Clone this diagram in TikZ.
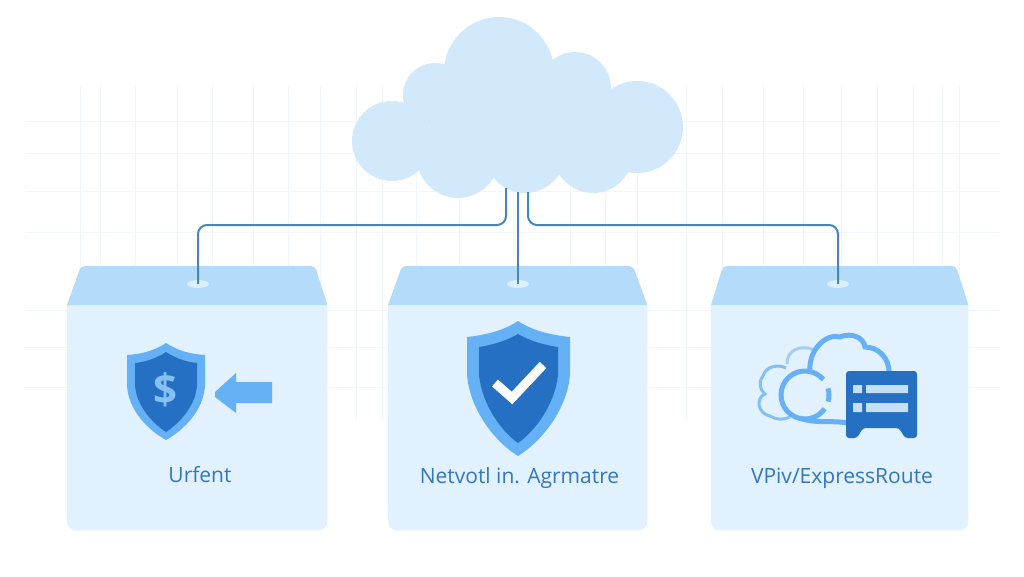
\documentclass[tikz,border=0pt]{standalone}
\usepackage{fontspec}
\setmainfont{Open Sans}
\usetikzlibrary{shapes.geometric}
\definecolor{gridline}{HTML}{F0F6FC}
\definecolor{cloudfill}{HTML}{D2E9FB}
\definecolor{boxbody}{HTML}{E1F1FD}
\definecolor{boxlid}{HTML}{B5DBFA}
\definecolor{padfill}{HTML}{DCEFFD}
\definecolor{linkblue}{HTML}{4586BE}
\definecolor{iconlight}{HTML}{66B0F5}
\definecolor{iconmid}{HTML}{85C0F5}
\definecolor{iconpale}{HTML}{A3CFF6}
\definecolor{icondark}{HTML}{2670C4}
\definecolor{barfill}{HTML}{C5DFF7}
\definecolor{labelblue}{HTML}{3577B8}
\tikzset{
    gridrule/.style={draw=gridline, line width=1pt},
    boxnode/.style={minimum height=225pt, anchor=north west, inner sep=0pt},
    padnode/.style={ellipse, fill=padfill, minimum width=22pt, minimum height=8pt, inner sep=0pt},
    link/.style={draw=linkblue, line width=2pt, rounded corners=9pt},
    caption/.style={text=labelblue, font=\fontsize{21}{24}\selectfont, inner sep=0pt}
}
\begin{document}
\begin{tikzpicture}[x=1pt, y=-1pt]
    \useasboundingbox (0,0) rectangle (1024,576);

    % faint grid behind everything
    \foreach \gx in {80,100,135,177,212,253,288,320,356,382,416,459,570,605,637,686,722,763,803,841,877,913,942,959}
        \draw[gridrule] (\gx,85) -- (\gx,420);
    \foreach \gy in {121,153,191,232,310,347,387}
        \draw[gridrule] (25,\gy) -- (1000,\gy);

    % cloud
    \fill[cloudfill] (392,141) circle (40);
    \fill[cloudfill] (435,95) circle (32);
    \fill[cloudfill] (499,72) circle (55);
    \fill[cloudfill] (575,88) circle (36);
    \fill[cloudfill] (637,127) circle (46);
    \fill[cloudfill] (458,157) circle (41);
    \fill[cloudfill] (525,153) circle (40);
    \fill[cloudfill] (593,153) circle (40);
    \fill[cloudfill] (430,100) rectangle (620,160);
    \coordinate (cloudL) at (506,188);
    \coordinate (cloudM) at (518,192);
    \coordinate (cloudR) at (528,192);

    % boxes
    \node[boxnode, minimum width=260pt] (boxA) at (67,305) {};
    \node[boxnode, minimum width=259pt] (boxB) at (388,305) {};
    \node[boxnode, minimum width=257pt] (boxC) at (711,305) {};
    \fill[boxbody] (boxA.north west) -- (boxA.north east) [rounded corners=9pt] -- (boxA.south east) -- (boxA.south west) [sharp corners] -- cycle;
    \fill[boxbody] (boxB.north west) -- (boxB.north east) [rounded corners=9pt] -- (boxB.south east) -- (boxB.south west) [sharp corners] -- cycle;
    \fill[boxbody] (boxC.north west) -- (boxC.north east) [rounded corners=9pt] -- (boxC.south east) -- (boxC.south west) [sharp corners] -- cycle;
    \fill[boxlid] (boxA.north west) [rounded corners=4pt] -- (81,266) -- (315,266) [sharp corners] -- (boxA.north east) -- cycle;
    \fill[boxlid] (boxB.north west) [rounded corners=4pt] -- (402,266) -- (633,266) [sharp corners] -- (boxB.north east) -- cycle;
    \fill[boxlid] (boxC.north west) [rounded corners=4pt] -- (723,266) -- (956,266) [sharp corners] -- (boxC.north east) -- cycle;

    \node[padnode] (padA) at (198,284) {};
    \node[padnode] (padB) at (518,284) {};
    \node[padnode] (padC) at (838,284) {};

    \coordinate (bendA) at (198,225);
    \coordinate (bendC) at (838,225);
    \draw[link] (cloudL) -- (cloudL |- bendA) -- (bendA) -- (padA.center);
    \draw[link] (cloudM) -- (padB.center);
    \draw[link] (cloudR) -- (cloudR |- bendC) -- (bendC) -- (padC.center);

    % first icon
    \fill[iconlight] (166,343) .. controls (152,352) and (140,354) .. (127,355) -- (127,385) .. controls (128,410) and (148,430) .. (166,440) .. controls (184,430) and (204,410) .. (205,385) -- (205,355) .. controls (192,354) and (180,352) .. (166,343) -- cycle;
    \fill[icondark] (166,352) .. controls (155,359) and (145,362) .. (135,363) -- (135,385) .. controls (136,405) and (152,423) .. (166,432) .. controls (180,423) and (196,405) .. (197,385) -- (197,363) .. controls (187,362) and (177,359) .. (166,352) -- cycle;
    \node[text=iconmid, font=\bfseries\fontsize{42}{42}\selectfont, inner sep=0pt] (dollar) at (165,390) {\$};
    \fill[iconlight] (215,392) -- (236,373) -- (236,382) -- (272,382) -- (272,403) -- (236,403) -- (236,413) -- (215,397) -- cycle;

    % second icon
    \fill[iconlight] (518,321) .. controls (503,331) and (485,335) .. (467,337) -- (467,375) .. controls (470,410) and (495,442) .. (518,456) .. controls (541,442) and (567,410) .. (570,375) -- (570,337) .. controls (551,335) and (533,331) .. (518,321) -- cycle;
    \fill[icondark] (518,334) .. controls (506,341) and (492,345) .. (479,347) -- (479,375) .. controls (482,405) and (502,432) .. (518,443) .. controls (534,432) and (555,405) .. (558,375) -- (558,347) .. controls (544,345) and (530,341) .. (518,334) -- cycle;
    \draw[white, line width=9pt] (495,383) -- (512,398) -- (543,365);

    % third icon
    \draw[iconpale, line width=3pt] (787,364) .. controls (786,350) and (802,344) .. (814,350);
    \draw[iconmid, line width=3pt] (786,368) .. controls (778,364) and (766,366) .. (763,376) .. controls (758,382) and (760,390) .. (765,394) .. controls (755,398) and (758,414) .. (770,416) .. controls (776,420) and (784,420) .. (790,417);
    \draw[iconlight, line width=5pt] (810,372) .. controls (808,350) and (826,333) .. (840,337) .. controls (852,332) and (864,338) .. (865,347) .. controls (878,347) and (890,358) .. (889,374);
    \draw[iconlight, line width=5pt] (805,395) ++(35:24) arc (35:320:24);
    \draw[iconlight, line width=5pt] (805,395) ++(-16:24) arc (-16:16:24);
    \draw[iconlight, line width=5pt] (800,418) .. controls (815,424) and (832,420) .. (848,423);
    \fill[icondark, rounded corners=3pt] (846,371) -- (917,371) -- (917,438) -- (905,438) -- (899,428) -- (863,428) -- (857,438) -- (846,438) -- cycle;
    \fill[barfill] (853,385) rectangle (862,393) (866,385) rectangle (908,393);
    \fill[barfill] (853,403) rectangle (862,412) (866,403) rectangle (908,412);

    % labels
    \node[caption] (labelA) at (200,475) {Urfent};
    \node[caption] (labelB) at (519.5,478) {Netvotl in. Agrmatre};
    \node[caption] (labelC) at (842,478) {VPiv/ExpressRoute};
\end{tikzpicture}
\end{document}
